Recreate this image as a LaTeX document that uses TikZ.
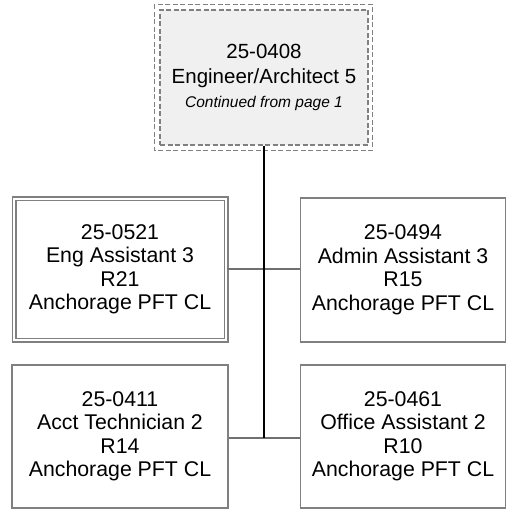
\documentclass[tikz,border=0pt]{standalone}
\usepackage{fontspec}
\setmainfont{Liberation Sans}
\definecolor{bordergray}{HTML}{808080}
\definecolor{linegray}{HTML}{707070}
\definecolor{topfill}{HTML}{F0F0F0}
\begin{document}
\begin{tikzpicture}[x=1pt,y=-1pt,
  box/.style={draw=bordergray, line width=1.2pt, fill=white, align=center,
    font=\fontsize{21.3}{23.5}\selectfont, inner sep=0pt},
  dblbox/.style={box, double=white, double distance=2.8pt, line width=1.1pt},
  dashbox/.style={draw=bordergray, line width=1.1pt, dash pattern=on 5pt off 2.5pt},
  conn/.style={draw=linegray, line width=1.1pt},
  vconn/.style={draw=black, line width=1.1pt}
]
\useasboundingbox (0,0) rectangle (506,510);
% top box
\node[dashbox, fill=topfill, minimum width=208pt, minimum height=135pt, align=center,
  font=\fontsize{20.5}{25}\selectfont, inner sep=0pt] (top) at (264,77.5)
  {25-0408\\Engineer/Architect 5\\[-1pt]{\fontsize{15.5}{18}\itshape\selectfont Continued from page 1}};
\draw[dashbox] ([xshift=-5pt,yshift=5pt]top.north west) rectangle ([xshift=4pt,yshift=-5pt]top.south east);
% middle row
\node[dblbox, minimum width=212pt, minimum height=141pt] (eng) at (120,269.5)
  {25-0521\\Eng Assistant 3\\R21\\Anchorage PFT CL};
\node[box, minimum width=205pt, minimum height=144pt] (admin) at (403,270)
  {25-0494\\Admin Assistant 3\\R15\\Anchorage PFT CL};
% bottom row
\node[box, minimum width=216pt, minimum height=143pt] (acct) at (120,436.5)
  {25-0411\\Acct Technician 2\\R14\\Anchorage PFT CL};
\node[box, minimum width=205pt, minimum height=143pt] (office) at (403,436.5)
  {25-0461\\Office Assistant 2\\R10\\Anchorage PFT CL};
% connectors
\coordinate (jm) at (264,269);
\coordinate (jb) at (264,438);
\draw[conn] (eng.east |- jm) -- (admin.west |- jm);
\draw[conn] (acct.east |- jb) -- (office.west |- jb);
\draw[vconn] (top.south) -- (jb);
\end{tikzpicture}
\end{document}
